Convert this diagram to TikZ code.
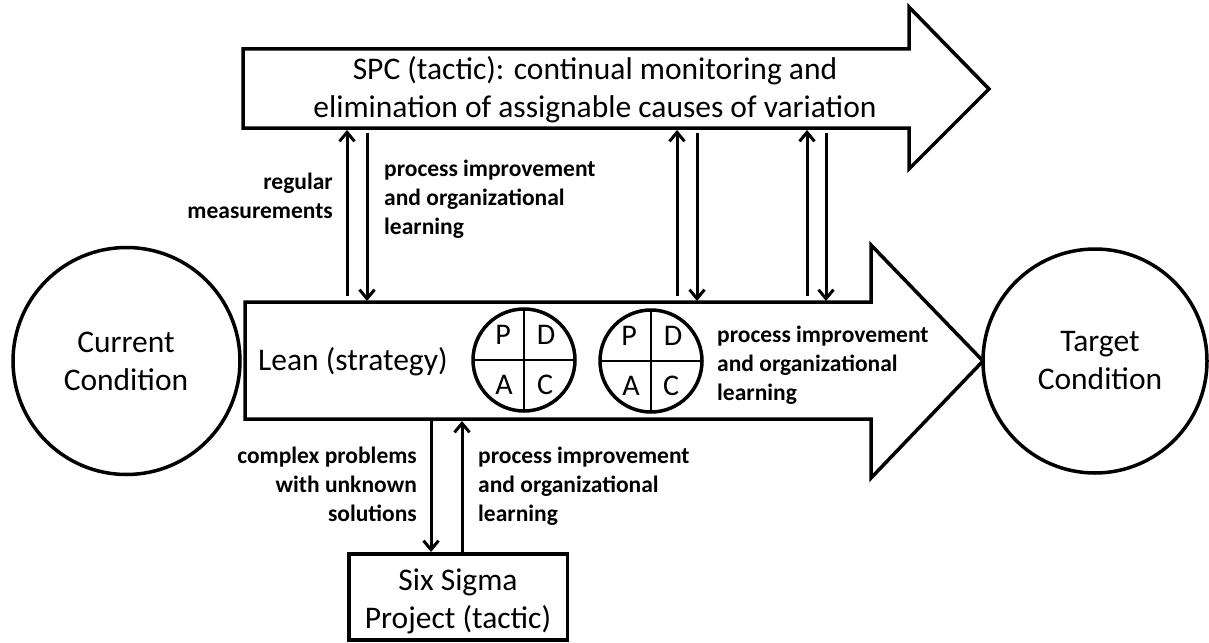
\documentclass[tikz,border=0pt]{standalone}
\usepackage{fontspec}
\setmainfont{Carlito}
\usetikzlibrary{arrows.meta}
\begin{document}
\begin{tikzpicture}[x=1pt,y=-1pt,
  outline/.style={draw=black, line width=3.5pt, line join=miter},
  conn/.style={draw=black, line width=3pt, -{Straight Barb[length=9pt,width=15pt]}},
  big/.style={font=\fontsize{31.5}{38}\selectfont, align=center, inner sep=0pt},
  lbl/.style={font=\fontsize{23.5}{29}\selectfont\bfseries, inner sep=0pt},
  pdca/.style={circle, draw=black, line width=3.5pt, minimum size=102pt, inner sep=0pt, outer sep=0pt},
  letter/.style={font=\fontsize{30}{36}\selectfont, inner sep=0pt},
  cross/.style={draw=black, line width=2pt}
]
\useasboundingbox (0,0) rectangle (1209,642);

% SPC arrow
\draw[outline] (243,49) -- (909,49) -- (909,7) -- (989,89) -- (909,169) -- (909,128) -- (243,128) -- cycle;
\node[big] (spc) at (595,90) {SPC (tactic): continual monitoring and\\elimination of assignable causes of variation};

% Lean arrow
\draw[outline] (245,302) -- (871,302) -- (871,245) -- (983,361) -- (871,478) -- (871,419) -- (245,419) -- cycle;
\node[big, anchor=base west] (lean) at (258,370) {Lean (strategy)};

% Conditions
\node[outline, circle, minimum size=227pt, inner sep=0pt] (cur) at (126.5,361) {};
\node[big] (curtxt) at (126,361) {Current\\Condition};
\node[outline, circle, minimum size=224pt, inner sep=0pt] (tgt) at (1095,361) {};
\node[big] (tgttxt) at (1100,361) {Target\\Condition};

% PDCA circles
\node[pdca] (p1) at (524,360) {};
\draw[cross] (p1.north) -- (p1.south) (p1.west) -- (p1.east);
\node[letter] (p1P) at ([shift={(-21,-25)}]p1.center) {P};
\node[letter] (p1D) at ([shift={(22,-25)}]p1.center) {D};
\node[letter] (p1A) at ([shift={(-20,25)}]p1.center) {A};
\node[letter] (p1C) at ([shift={(21,25)}]p1.center) {C};

\node[pdca] (p2) at (651,361) {};
\draw[cross] (p2.north) -- (p2.south) (p2.west) -- (p2.east);
\node[letter] (p2P) at ([shift={(-22,-25)}]p2.center) {P};
\node[letter] (p2D) at ([shift={(22,-25)}]p2.center) {D};
\node[letter] (p2A) at ([shift={(-20,25)}]p2.center) {A};
\node[letter] (p2C) at ([shift={(20,25)}]p2.center) {C};

% Six Sigma box
\node[outline, rectangle, minimum width=218.5pt, minimum height=86pt, inner sep=0pt] (six) at (458,597) {};
\node[big] (sixtxt) at (458,601) {Six Sigma\\Project (tactic)};

% connector end points
\coordinate (a1s) at (347,296); \coordinate (a1e) at (347,130);
\coordinate (b1s) at (367,133); \coordinate (b1e) at (367,301);
\coordinate (a2s) at (677,296); \coordinate (a2e) at (677,130);
\coordinate (b2s) at (697,133); \coordinate (b2e) at (697,301);
\coordinate (a3s) at (807,296); \coordinate (a3e) at (807,130);
\coordinate (b3s) at (826,133); \coordinate (b3e) at (826,301);
\coordinate (c1s) at (431,421); \coordinate (c1e) at (431,552);
\coordinate (c2s) at (462,552); \coordinate (c2e) at (462,421);

\draw[conn] (a1s) -- (a1e);
\draw[conn] (b1s) -- (b1e);
\draw[conn] (a2s) -- (a2e);
\draw[conn] (b2s) -- (b2e);
\draw[conn] (a3s) -- (a3e);
\draw[conn] (b3s) -- (b3e);
\draw[conn] (c1s) -- (c1e);
\draw[conn] (c2s) -- (c2e);

% labels
\node[lbl, align=right, anchor=east] (lregular) at (333,196) {regular\\measurements};
\node[lbl, align=left, anchor=west] (lpi1) at (384,199) {process improvement\\and organizational\\learning};
\node[lbl, align=left, anchor=west] (lpi2) at (717,365) {process improvement\\and organizational\\learning};
\node[lbl, align=right, anchor=east] (lcomplex) at (417,484) {complex problems\\with unknown\\solutions};
\node[lbl, align=left, anchor=west] (lpi3) at (478,486.5) {process improvement\\and organizational\\learning};
\end{tikzpicture}
\end{document}
